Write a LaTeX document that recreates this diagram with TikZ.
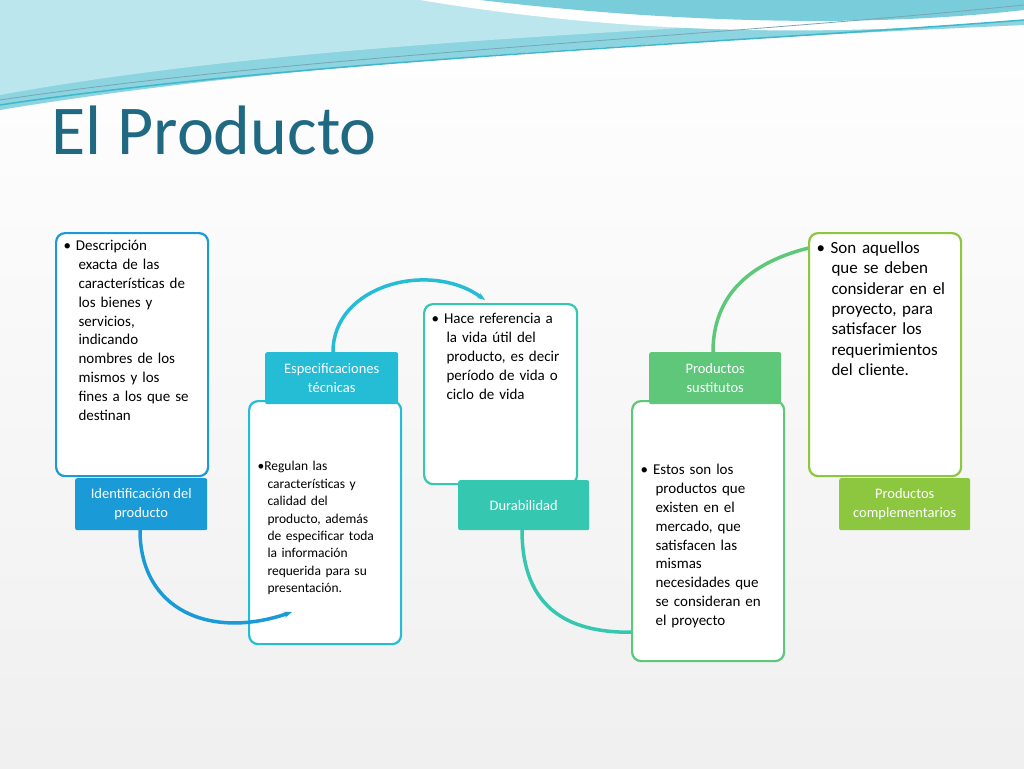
\documentclass[tikz,border=0pt]{standalone}
\usepackage{fontspec}
\setmainfont{Carlito}
\usetikzlibrary{arrows.meta}
\definecolor{ttl}{HTML}{1F6A82}
\definecolor{c1}{HTML}{1A9AD6}
\definecolor{c2}{HTML}{25BCD6}
\definecolor{c3}{HTML}{36C7B0}
\definecolor{c4}{HTML}{5EC77A}
\definecolor{c5}{HTML}{8DC63F}
\definecolor{wave}{HTML}{3FB7CC}
\begin{document}
\begin{tikzpicture}[x=1pt,y=-1pt,
 tbox/.style={draw=#1,line width=2.2pt,rounded corners=9pt,fill=white,anchor=north west,inner sep=0pt},
 lbl/.style={fill=#1,text=white,rounded corners=2pt,anchor=north west,align=center,font=\fontsize{14.5}{19}\selectfont,inner sep=0pt},
 txt/.style={anchor=north west,align=left,font=\fontsize{15}{18.8}\selectfont,text width=#1},
 arc/.style={draw=#1,line width=3.5pt}]
\useasboundingbox (0,0) rectangle (1024,768);
\shade[top color=white,bottom color=gray!12] (0,0) rectangle (1024,768);
% top waves
\fill[wave!60] (0,0) -- (1024,0) -- (1024,25) .. controls (700,40) and (300,60) .. (0,110) -- cycle;
\fill[wave!35] (0,0) -- (1024,0) -- (1024,8) .. controls (700,30) and (300,40) .. (0,95) -- cycle;
\fill[white] (420,0) .. controls (600,30) and (800,40) .. (1024,20) -- (1024,0) -- cycle;
\fill[wave!70] (480,0) .. controls (650,20) and (850,30) .. (1024,10) -- (1024,0) -- cycle;
\draw[wave,line width=1.5pt] (0,105) .. controls (300,60) and (700,45) .. (1024,20);
\draw[ttl!60,line width=0.8pt] (0,100) .. controls (300,55) and (700,38) .. (1024,5);
\node[anchor=west,text=ttl,font=\fontsize{70}{76}\selectfont] (title) at (48,130) {El Producto};
% hidden-end arcs
\coordinate (a3) at (640,632);
\coordinate (a4) at (862,240);
\draw[arc=c3] (522,530) .. controls (522,610) and (570,635) .. (a3);
\draw[arc=c4] (713,352) .. controls (713,270) and (790,245) .. (a4);
% boxes
\node[tbox=c1,minimum width=152pt,minimum height=243pt] (b1) at (55,232) {};
\node[tbox=c2,minimum width=152pt,minimum height=243pt] (b2) at (248,400) {};
\node[tbox=c3,minimum width=153pt,minimum height=180pt] (b3) at (423,303) {};
\node[tbox=c4,minimum width=152pt,minimum height=260pt] (b4) at (631,400) {};
\node[tbox=c5,minimum width=152pt,minimum height=243pt] (b5) at (808,232) {};
% arcs with heads
\coordinate (a1) at (292,612);
\coordinate (a2) at (485,300);
\draw[arc=c1,-{Stealth[length=8pt]}] (140,530) .. controls (140,610) and (210,640) .. (a1);
\draw[arc=c2,-{Stealth[length=8pt]}] (333,352) .. controls (333,285) and (430,260) .. (a2);
% labels
\node[lbl=c1,minimum width=132pt,minimum height=52pt] (l1) at (75,478) {Identificación del\\producto};
\node[lbl=c2,minimum width=133pt,minimum height=52pt] (l2) at (265,352) {Especificaciones\\técnicas};
\node[lbl=c3,minimum width=131pt,minimum height=50pt] (l3) at (458,480) {Durabilidad};
\node[lbl=c4,minimum width=132pt,minimum height=52pt] (l4) at (649,352) {Productos\\sustitutos};
\node[lbl=c5,minimum width=131pt,minimum height=52pt] (l5) at (839,478) {Productos\\complementarios};
% texts
\node[txt=150pt] (t1) at (60,237) {\textbullet\ Descripción\\\hspace*{15pt}exacta de las\\\hspace*{15pt}características de\\\hspace*{15pt}los bienes y\\\hspace*{15pt}servicios,\\\hspace*{15pt}indicando\\\hspace*{15pt}nombres de los\\\hspace*{15pt}mismos y los\\\hspace*{15pt}fines a los que se\\\hspace*{15pt}destinan};
\node[txt=150pt,font=\fontsize{13.5}{17.4}\selectfont] (t2) at (254,458) {\textbullet Regulan las\\\hspace*{10pt}características y\\\hspace*{10pt}calidad del\\\hspace*{10pt}producto, además\\\hspace*{10pt}de especificar toda\\\hspace*{10pt}la información\\\hspace*{10pt}requerida para su\\\hspace*{10pt}presentación.};
\node[txt=150pt] (t3) at (428,310) {\textbullet\ Hace referencia a\\\hspace*{15pt}la vida útil del\\\hspace*{15pt}producto, es decir\\\hspace*{15pt}período de vida o\\\hspace*{15pt}ciclo de vida};
\node[txt=150pt] (t4) at (637,461) {\textbullet\ Estos son los\\\hspace*{15pt}productos que\\\hspace*{15pt}existen en el\\\hspace*{15pt}mercado, que\\\hspace*{15pt}satisfacen las\\\hspace*{15pt}mismas\\\hspace*{15pt}necesidades que\\\hspace*{15pt}se consideran en\\\hspace*{15pt}el proyecto};
\node[txt=150pt,font=\fontsize{17}{20.4}\selectfont] (t5) at (813,238) {\textbullet\ Son aquellos\\\hspace*{15pt}que se deben\\\hspace*{15pt}considerar en el\\\hspace*{15pt}proyecto, para\\\hspace*{15pt}satisfacer los\\\hspace*{15pt}requerimientos\\\hspace*{15pt}del cliente.};
\end{tikzpicture}
\end{document}
